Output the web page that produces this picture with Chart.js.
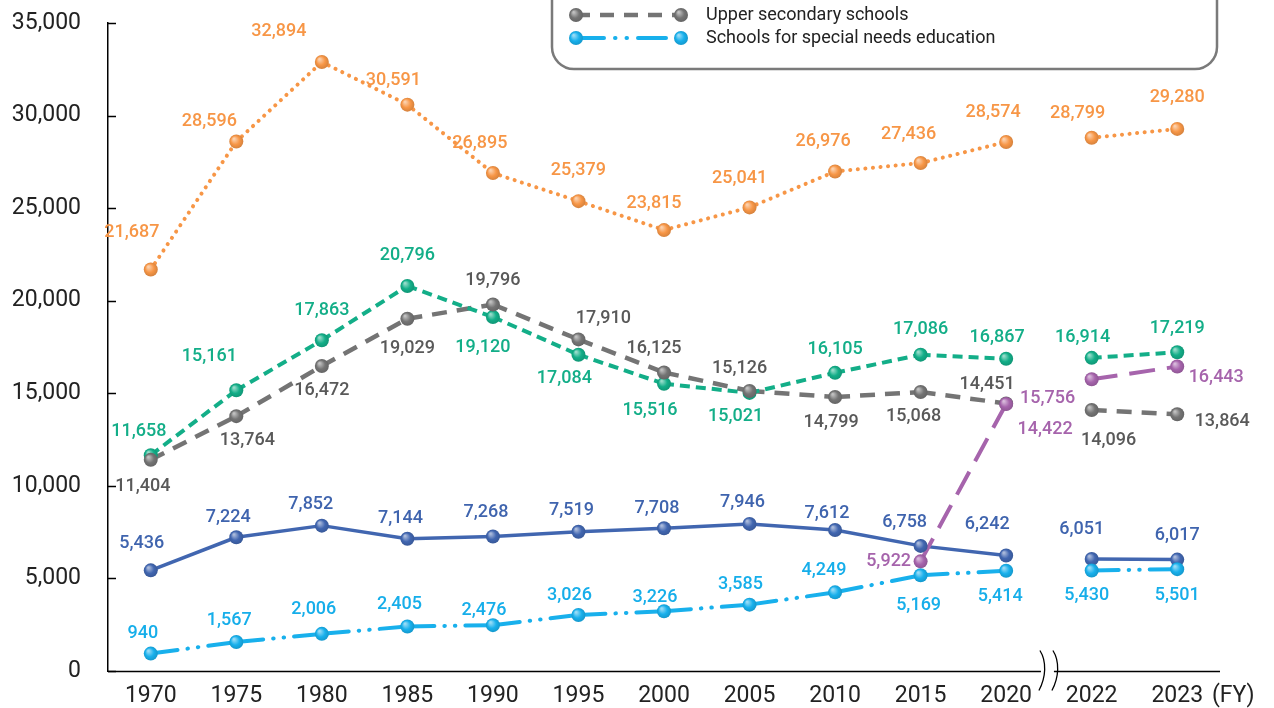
<!DOCTYPE html>
<html>
<head>
<meta charset="utf-8">
<script src="https://cdn.jsdelivr.net/npm/chart.js@4.4.1/dist/chart.umd.min.js"></script>
<style>
  html, body { margin: 0; padding: 0; background: #fff; }
  #wrap { width: 1274px; height: 708px; position: relative; }
</style>
</head>
<body>
<div id="wrap"><canvas id="chart" width="1274" height="708"></canvas></div>
<script>
// Fiscal years on the horizontal axis (break between 2020 and 2022)
const years = ['1970', '1975', '1980', '1985', '1990', '1995', '2000', '2005', '2010', '2015', '2020', '2022', '2023'];
const yTicks = [0, 5000, 10000, 15000, 20000, 25000, 30000, 35000];

// Series values
const orangeSeries = [21687, 28596, 32894, 30591, 26895, 25379, 23815, 25041, 26976, 27436, 28574, 28799, 29280];
const greenSeries = [11658, 15161, 17863, 20796, 19120, 17084, 15516, 15021, 16105, 17086, 16867, 16914, 17219];
const upperSecondary = [11404, 13764, 16472, 19029, 19796, 17910, 16125, 15126, 14799, 15068, 14451, 14096, 13864];
const blueSeries = [5436, 7224, 7852, 7144, 7268, 7519, 7708, 7946, 7612, 6758, 6242, 6051, 6017];
const specialNeeds = [940, 1567, 2006, 2405, 2476, 3026, 3226, 3585, 4249, 5169, 5414, 5430, 5501];
const purpleSeries = [null, null, null, null, null, null, null, null, null, 5922, 14422, 15756, 16443];

// Where each value label sits relative to its point [dx, dy]
const labelPlacement = {
  orange: [[-19,-37],[-27,-20],[-43,-30],[-14,-24],[-13,-30],[0,-31],[-10,-27],[-10,-29],[-12,-30],[-12,-29],[-13,-29],[-14,-24],[0,-31]],
  green: [[-12,-24],[-27,-34],[0,-30],[0,-30],[-10,30],[-14,24],[-14,27],[-14,24],[0,-23],[0,-25],[-9,-21],[-9,-20],[0,-24]],
  gray: [[-8,27],[11,24],[0,24],[0,30],[0,-24],[25,-21],[-10,-24],[-10,-22],[-4,25],[-7,24],[-19,-19],[17,30],[45,7]],
  purple: [null,null,null,null,null,null,null,null,null,[-32,0],[39,26],[-44,19],[39,11]],
  blue: [[-9,-27],[-8,-20],[-11,-21],[-7,-20],[-7,-24],[-7,-21],[-7,-20],[-7,-21],[-8,-17],[-16,-23],[-19,-31],[-10,-29],[0,-24]],
  light: [[-8,-20],[-7,-21],[-8,-24],[-8,-22],[-9,-15],[-9,-19],[-9,-14],[-9,-20],[-11,-22],[-2,30],[-6,26],[-5,25],[0,26]]
};

const BREAK_AFTER = 10; // index of 2020; no line drawn from 2020 to 2022

function makeSet(label, data, color, labelColor, dash, width, cap, key) {
  return {
    label, data,
    borderColor: color,
    borderWidth: width,
    borderDash: dash,
    borderCapStyle: cap,
    pointRadius: 0,
    pointHoverRadius: 0,
    tension: 0,
    spanGaps: false,
    labelColor, placeKey: key,
    segment: {
      borderColor: ctx => ctx.p0DataIndex === BREAK_AFTER ? 'rgba(0,0,0,0)' : undefined,
      // alternate offset so every segment starts its own dash pattern
      borderDashOffset: ctx => (ctx.p0DataIndex % 2) * 0.001
    }
  };
}

const datasets = [
  makeSet('Series A', orangeSeries, '#F79646', '#F79646', [0.1, 7.5], 4, 'round', 'orange'),
  makeSet('Series B', greenSeries, '#13AE88', '#13AE88', [10, 6], 4, 'butt', 'green'),
  makeSet('Upper secondary schools', upperSecondary, '#747474', '#595959', [15, 10], 4.5, 'butt', 'gray'),
  makeSet('Series D', purpleSeries, '#A664AC', '#A664AC', [26, 12], 4, 'butt', 'purple'),
  makeSet('Series E', blueSeries, '#4166B0', '#3F64AE', [], 3.5, 'butt', 'blue'),
  makeSet('Schools for special needs education', specialNeeds, '#18B0EC', '#16AEEA', [27, 10, 0.5, 10, 0.5, 10], 4, 'round', 'light')
];

function mix(hex, target, t) {
  const n = parseInt(hex.slice(1), 16);
  const r = (n >> 16) & 255, g = (n >> 8) & 255, b = n & 255;
  const m = c => Math.round(c + (target - c) * t);
  return `rgb(${m(r)},${m(g)},${m(b)})`;
}

function sphere(ctx, x, y, r, color) {
  const g = ctx.createRadialGradient(x - r * 0.35, y - r * 0.4, r * 0.1, x, y, r * 1.05);
  g.addColorStop(0, mix(color, 255, 0.55));
  g.addColorStop(0.55, color);
  g.addColorStop(1, mix(color, 0, 0.15));
  ctx.beginPath();
  ctx.arc(x, y, r, 0, Math.PI * 2);
  ctx.fillStyle = g;
  ctx.fill();
}

const decor = {
  id: 'decor',
  beforeDatasetsDraw(chart) {
    const { ctx, chartArea, scales } = chart;
    const y = scales.y;
    ctx.save();
    ctx.strokeStyle = '#000';
    ctx.lineWidth = 1.5;
    // inward tick marks on the value axis
    yTicks.forEach(v => {
      const py = Math.round(y.getPixelForValue(v)) + 0.5;
      ctx.beginPath();
      ctx.moveTo(chartArea.left, py);
      ctx.lineTo(chartArea.left + 8, py);
      ctx.stroke();
    });
    // horizontal axis with a break mark between 2020 and 2022
    const base = Math.round(chartArea.bottom) + 0.5;
    const bx = (scales.x.getPixelForValue(BREAK_AFTER) + scales.x.getPixelForValue(BREAK_AFTER + 1)) / 2 - 2;
    ctx.beginPath();
    ctx.moveTo(chartArea.left, base);
    ctx.lineTo(bx - 6, base);
    ctx.moveTo(bx + 7, base);
    ctx.lineTo(chartArea.right, base);
    ctx.stroke();
    ctx.lineWidth = 1.3;
    [bx - 6, bx + 7].forEach(cx => {
      ctx.beginPath();
      ctx.moveTo(cx - 1, base - 21);
      ctx.bezierCurveTo(cx + 6, base - 10, cx + 5, base + 6, cx - 2, base + 19);
      ctx.stroke();
    });
    ctx.restore();
  },
  afterDatasetsDraw(chart) {
    const { ctx } = chart;
    ctx.save();
    // points
    chart.data.datasets.forEach((ds, di) => {
      const meta = chart.getDatasetMeta(di);
      meta.data.forEach((pt, i) => {
        if (ds.data[i] == null) return;
        sphere(ctx, pt.x, pt.y, 7, ds.borderColor);
      });
    });
    // value labels
    ctx.font = '500 18px Roboto';
    ctx.textAlign = 'center';
    ctx.textBaseline = 'middle';
    chart.data.datasets.forEach((ds, di) => {
      const meta = chart.getDatasetMeta(di);
      const place = labelPlacement[ds.placeKey];
      meta.data.forEach((pt, i) => {
        if (ds.data[i] == null || !place[i]) return;
        ctx.fillStyle = ds.labelColor;
        ctx.fillText(ds.data[i].toLocaleString('en-US'), pt.x + place[i][0], pt.y + place[i][1]);
      });
    });
    // fiscal-year unit
    ctx.fillStyle = '#222';
    ctx.font = '23px Roboto';
    ctx.textAlign = 'left';
    ctx.fillText('(FY)', 1212, 696);

    // legend box (its upper part runs off the top edge)
    ctx.beginPath();
    ctx.roundRect(552, -60, 665, 129, 22);
    ctx.strokeStyle = '#7a7a7a';
    ctx.lineWidth = 2.5;
    ctx.stroke();
    const entries = [
      { ds: chart.data.datasets[2], y: 15 },
      { ds: chart.data.datasets[5], y: 38 }
    ];
    entries.forEach(({ ds, y }) => {
      const x0 = 576, x1 = 681;
      ctx.save();
      ctx.strokeStyle = ds.borderColor;
      ctx.lineWidth = ds.borderWidth;
      ctx.lineCap = ds.borderCapStyle;
      ctx.setLineDash(ds.placeKey === 'light' ? [28, 11, 0.5, 11, 0.5, 11] : [14, 10]);
      ctx.beginPath();
      ctx.moveTo(x0, y);
      ctx.lineTo(x1, y);
      ctx.stroke();
      ctx.restore();
      sphere(ctx, x0, y, 7, ds.borderColor);
      sphere(ctx, x1, y, 7, ds.borderColor);
      ctx.fillStyle = '#222';
      ctx.font = '18px Roboto';
      ctx.textAlign = 'left';
      ctx.textBaseline = 'middle';
      ctx.fillText(ds.label, 706, y);
    });
    ctx.restore();
  }
};

new Chart(document.getElementById('chart'), {
  type: 'line',
  data: { labels: years, datasets },
  options: {
    responsive: false,
    animation: false,
    events: [],
    layout: { padding: { left: 0, right: 54, top: 23, bottom: 0 } },
    plugins: { legend: { display: false }, tooltip: { enabled: false } },
    scales: {
      x: {
        type: 'category',
        offset: true,
        grid: { display: false, drawTicks: false },
        border: { display: false },
        ticks: { color: '#222', font: { family: 'Roboto', size: 23 }, padding: 11, autoSkip: false, maxRotation: 0 },
        afterFit: s => { s.height = 37; s.paddingLeft = 0; s.paddingRight = 0; }
      },
      y: {
        min: 0, max: 35000,
        afterBuildTicks: s => { s.ticks = yTicks.map(v => ({ value: v })); },
        grid: { display: false, drawTicks: false },
        border: { display: true, color: '#000', width: 1.5 },
        ticks: {
          color: '#222', font: { family: 'Roboto', size: 23 }, padding: 27,
          callback: v => v.toLocaleString('en-US')
        },
        afterFit: s => { s.width = 108; s.paddingTop = 0; s.paddingBottom = 0; }
      }
    }
  },
  plugins: [decor]
});
</script>
</body>
</html>
